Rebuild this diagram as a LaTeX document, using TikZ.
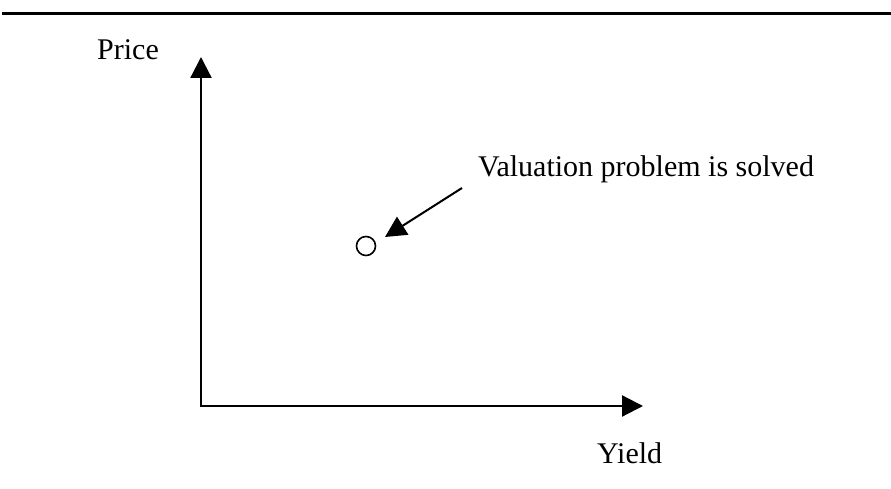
\documentclass[tikz,border=0pt]{standalone}
\usepackage{fontspec}
\setmainfont{Liberation Serif}
\usetikzlibrary{arrows.meta}
\begin{document}
\begin{tikzpicture}[x=1pt,y=1pt,
  lbl/.style={inner sep=0pt,anchor=base west,font=\fontsize{30}{36}\selectfont},
  axis/.style={line width=2.2pt,-{Triangle[length=21pt,width=21pt]}},
  pointer/.style={line width=2pt,-{Triangle[length=21pt,width=21pt]}}]
\useasboundingbox (0,0) rectangle (891,489);
% top rule
\coordinate (rl) at (2,475.5);
\coordinate (rr) at (891,475.5);
\draw[line width=3pt] (rl) -- (rr);
% axes
\coordinate (O) at (201,83);
\coordinate (ytip) at (201,432);
\coordinate (xtip) at (643,83);
\draw[axis] ([yshift=-1.1pt]O) -- (ytip);
\draw[axis] ([xshift=-1.1pt]O) -- (xtip);
% labels
\node[lbl] (price) at (97,429) {Price};
\node[lbl] (yield) at (597,25) {Yield};
\node[lbl] (val) at (478,312) {Valuation problem is solved};
% point
\node[circle,draw,line width=1.6pt,minimum size=19pt,inner sep=0pt] (pt) at (366,243) {};
\coordinate (ptr) at (462,301);
\coordinate (ptrtip) at (385,252);
\draw[pointer] (ptr) -- (ptrtip);
\end{tikzpicture}
\end{document}
